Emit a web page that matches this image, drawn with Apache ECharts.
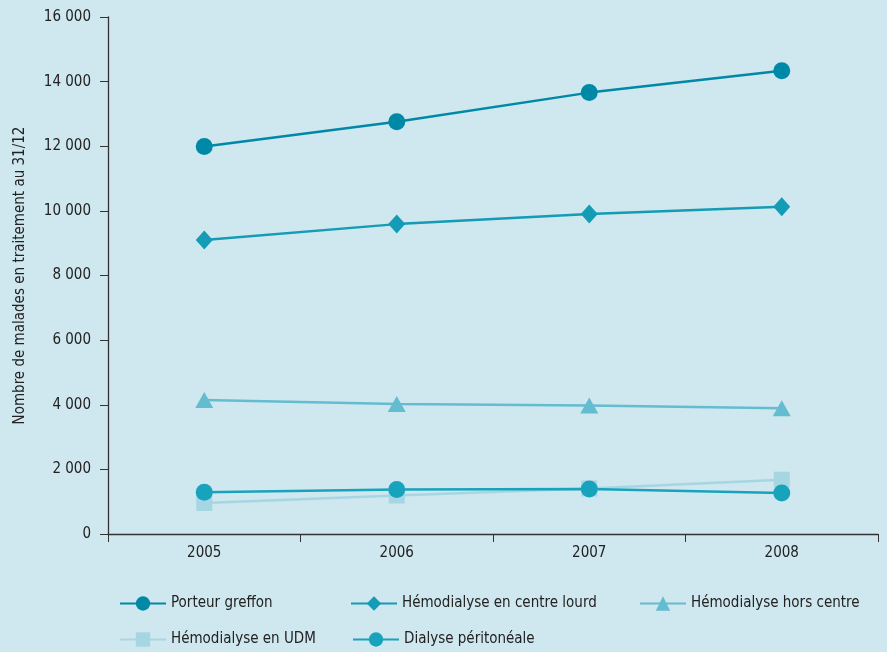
<!DOCTYPE html>
<html><head><meta charset="utf-8">
<script src="https://cdn.jsdelivr.net/npm/echarts@6/dist/echarts.min.js"></script>
<style>html,body{margin:0;padding:0;background:#cfe7ee}#c{width:887px;height:652px}</style>
</head><body><div id="c"></div>
<script>
const years = ['2005', '2006', '2007', '2008'];
const porteurGreffon = [11990, 12760, 13660, 14340];
const hemoCentreLourd = [9100, 9590, 9900, 10130];
const hemoHorsCentre = [4150, 4020, 3980, 3890];
const hemoUDM = [960, 1190, 1410, 1680];
const dialysePerito = [1290, 1380, 1390, 1270];
const yTicks = [0, 2000, 4000, 6000, 8000, 10000, 12000, 14000, 16000];

const FONT = "'Liberation Sans Narrow','DejaVu Sans Condensed','Roboto',sans-serif";
const fmt = v => String(v).replace(/\B(?=(\d{3})+(?!\d))/g, ' ');

function mk(name, data, color, symbol, size) {
  return {
    name, type: 'line', data, symbol, symbolSize: size,
    lineStyle: { color, width: 2.5 },
    itemStyle: { color },
    emphasis: { disabled: true }
  };
}
const series = [
  mk('Porteur greffon', porteurGreffon, '#0089a6', 'circle', 17),
  mk('Hémodialyse en centre lourd', hemoCentreLourd, '#149bb6', 'diamond', [17, 19]),
  mk('Hémodialyse hors centre', hemoHorsCentre, '#64bcd0', 'triangle', [18, 16]),
  mk('Hémodialyse en UDM', hemoUDM, '#a7d6e3', 'rect', 16),
  mk('Dialyse péritonéale', dialysePerito, '#18a3bd', 'circle', 17)
];
const legendBase = { itemWidth: 46, itemHeight: 18, itemGap: 20, textStyle: { fontFamily: FONT, fontSize: 15, color: '#222' }, selectedMode: false };
const chart = echarts.init(document.getElementById('c'));
chart.setOption({
  backgroundColor: '#cfe7ee',
  animation: false,
  grid: { left: 108, right: 9, top: 17, bottom: 118 },
  legend: [
    Object.assign({}, legendBase, { data: ['Porteur greffon'], left: 114, top: 591 }),
    Object.assign({}, legendBase, { data: ['Hémodialyse en centre lourd'], left: 345, top: 591 }),
    Object.assign({}, legendBase, { data: ['Hémodialyse hors centre'], left: 634, top: 591 }),
    Object.assign({}, legendBase, { data: ['Hémodialyse en UDM'], left: 114, top: 627 }),
    Object.assign({}, legendBase, { data: ['Dialyse péritonéale'], left: 347, top: 627 })
  ],
  xAxis: {
    type: 'category', data: years, boundaryGap: true,
    axisLine: { lineStyle: { color: '#333', width: 1.3 } },
    axisTick: { show: true, length: 8, lineStyle: { color: '#333' } },
    axisLabel: { fontFamily: FONT, fontSize: 15, color: '#222', margin: 12 }
  },
  yAxis: {
    type: 'value', min: 0, max: 16000, interval: 2000,
    name: 'Nombre de malades en traitement au 31/12',
    nameLocation: 'middle', nameGap: 80,
    nameTextStyle: { fontFamily: FONT, fontSize: 15, color: '#222' },
    splitLine: { show: false },
    axisLine: { show: true, lineStyle: { color: '#333', width: 1.3 } },
    axisTick: { show: true, length: 8, lineStyle: { color: '#333' } },
    axisLabel: { fontFamily: FONT, fontSize: 15, color: '#222', margin: 17,
      formatter: v => yTicks.includes(v) ? fmt(v) : '' }
  },
  series
});
</script></body></html>
